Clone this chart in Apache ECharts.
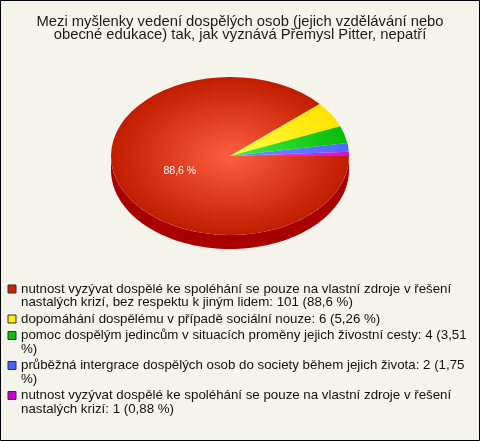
<!DOCTYPE html>
<html><head><meta charset="utf-8">
<script src="https://cdn.jsdelivr.net/npm/echarts@6/dist/echarts.min.js"></script>
<style>html,body{margin:0;padding:0;background:#f4f4ec}#c{width:480px;height:441px}</style>
</head><body><div id="c"></div>
<script>
// ---- data ----
const titleLines = ['Mezi myšlenky vedení dospělých osob (jejich vzdělávání nebo', 'obecné edukace) tak, jak vyznává Přemysl Pitter, nepatří'];
const categories = [
  'nutnost vyzývat dospělé ke spoléhání se pouze na vlastní zdroje v řešení nastalých krizí, bez respektu k jiným lidem',
  'dopomáhání dospělému v případě sociální nouze',
  'pomoc dospělým jedincům v situacích proměny jejich živostní cesty',
  'průběžná intergrace dospělých osob do society během jejich života',
  'nutnost vyzývat dospělé ke spoléhání se pouze na vlastní zdroje v řešení nastalých krizí'
];
const counts = [101, 6, 4, 2, 1];

// ---- styles ----
const FONT = '"Liberation Sans", Arial, sans-serif';
const legendColors = ['#cc2200', '#ffee00', '#11bb11', '#4466ff', '#cc00cc'];
const topInner = ['#ff5e40', '#ffff48', '#44f044', '#6e92ff', '#f048f0'];
const topOuter = ['#c01c00', '#ffe200', '#08bc08', '#4a6aff', '#d010d8'];
const sideColors = ['#a80000', '#c8b000', '#088808', '#2a40c0', '#900090'];
const CX = 230, CY = 156, RX = 119, RY = 79, DEPTH = 14;
const LEG_FS = 13.3, LH = 13.5, GAP = 3, LEG_W = 455, LEG_X = 7.5, FIRST_Y = 289;

const total = counts.reduce((a, b) => a + b, 0);
function pctStr(i) {
  const p = counts[i] / total * 100;
  return (p >= 10 ? p.toFixed(1) : p.toFixed(2)).replace('.', ',');
}
const starts = [];
(function () { let acc = 0; counts.forEach(v => { starts.push(acc / total * Math.PI * 2); acc += v; }); })();

const mctx = document.createElement('canvas').getContext('2d');
mctx.font = LEG_FS + 'px ' + FONT;
function wrapLines(txt) {
  const words = txt.split(' ');
  const lines = []; let cur = '';
  words.forEach(w => {
    const test = cur ? cur + ' ' + w : w;
    if (cur && mctx.measureText(test).width > LEG_W) { lines.push(cur); cur = w; } else { cur = test; }
  });
  if (cur) lines.push(cur);
  return lines;
}
const legendLines = categories.map((c, i) => wrapLines(c + ': ' + counts[i] + ' (' + pctStr(i) + ' %)'));
const nLines = legendLines.map(l => l.length);
const centers = [];
(function () { let y = FIRST_Y; nLines.forEach(n => { centers.push(y); y += LH * n + GAP; }); })();

function renderItem(params, api) {
  const i = params.dataIndex;
  const v = api.value(0);
  const a0 = starts[i], a1 = a0 + v / total * Math.PI * 2;
  const children = [];
  const s0 = Math.max(a0, 0), s1 = Math.min(a1, Math.PI);
  if (s1 > s0) {
    const pts = [], N = 80;
    for (let k = 0; k <= N; k++) { const a = s0 + (s1 - s0) * k / N; pts.push([CX + RX * Math.cos(a), CY + RY * Math.sin(a)]); }
    for (let k = N; k >= 0; k--) { const a = s0 + (s1 - s0) * k / N; pts.push([CX + RX * Math.cos(a), CY + RY * Math.sin(a) + DEPTH]); }
    children.push({ type: 'polygon', shape: { points: pts }, style: { fill: sideColors[i] } });
  }
  children.push({
    type: 'group', x: CX, y: CY, scaleY: RY / RX,
    children: [{
      type: 'sector',
      shape: { cx: 0, cy: 0, r0: 0, r: RX, startAngle: a0, endAngle: a1, clockwise: true },
      style: { fill: { type: 'radial', x: 0, y: 0, r: RX, global: true,
        colorStops: [{ offset: 0, color: topInner[i] }, { offset: 1, color: topOuter[i] }] } }
    }]
  });
  if (v / total >= 0.1) {
    const mid = (a0 + a1) / 2;
    children.push({
      type: 'text', x: CX + 0.45 * RX * Math.cos(mid), y: CY + 0.45 * RY * Math.sin(mid) + 3,
      style: { text: pctStr(i) + ' %', fill: '#ffffff', font: '10.5px ' + FONT, align: 'center', verticalAlign: 'middle' }
    });
  }
  return { type: 'group', children };
}

const chart = echarts.init(document.getElementById('c'), null, { renderer: 'canvas' });
chart.setOption({
  backgroundColor: '#f4f4ec',
  animation: false,
  title: {
    text: titleLines.join('\n'), left: 'center', top: 15, padding: 0,
    textStyle: { fontFamily: FONT, fontSize: 14.8, fontWeight: 'normal', color: '#1a1a1a', lineHeight: 13.5 }
  },
  legend: categories.map((name, i) => ({
    data: [name], left: LEG_X, top: centers[i] - LH * (2 * nLines[i] - 1) / 2,
    orient: 'vertical', padding: 0, icon: 'rect', itemWidth: 8, itemHeight: 8, itemGap: 0,
    selectedMode: false,
    itemStyle: { borderColor: '#333333', borderWidth: 1 },
    formatter: () => '\n'.repeat(nLines[i] - 1) + legendLines[i].join('\n'),
    textStyle: { fontFamily: FONT, fontSize: LEG_FS, lineHeight: LH, color: '#111111' }
  })),
  graphic: [{ type: 'rect', shape: { x: 0.5, y: 0.5, width: 479, height: 440 },
    style: { fill: 'none', stroke: '#000000', lineWidth: 1 }, z: 100 }],
  series: [
    { type: 'custom', coordinateSystem: 'none', renderItem, data: counts, silent: true },
    { type: 'pie', center: [-1000, -1000], radius: 5, silent: true, label: { show: false }, labelLine: { show: false },
      data: categories.map((n, i) => ({ name: n, value: counts[i], itemStyle: { color: legendColors[i] } })) }
  ]
});
</script>
</body></html>
